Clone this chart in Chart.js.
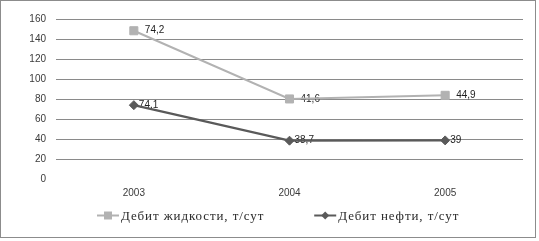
<!DOCTYPE html>
<html>
<head>
<meta charset="utf-8">
<script src="https://cdn.jsdelivr.net/npm/chart.js@4/dist/chart.umd.min.js"></script>
<style>
  html, body { margin: 0; padding: 0; background: #fff; }
  #wrap { position: absolute; left: 0; top: 0; width: 534px; height: 236px; border: 1px solid #8c8c8c; }
</style>
</head>
<body>
<div id="wrap"><canvas id="myChart"></canvas></div>
<script>
const years = ['2003', '2004', '2005'];
const liquidRate = [74.2, 41.6, 44.9];  // Дебит жидкости
const oilRate = [74.1, 38.7, 39];       // Дебит нефти
const yTicks = [0, 20, 40, 60, 80, 100, 120, 140, 160];

const liquidName = 'Дебит жидкости, т/сут';
const oilName = 'Дебит нефти, т/сут';

const tickFont = { family: '"Liberation Sans", Arial, sans-serif', size: 10 };

function fmt(v) {
  return String(v).replace('.', ',');
}

// value labels, drawn under the lines like in the original
const valueLabels = {
  id: 'valueLabels',
  beforeDatasetsDraw(chart) {
    const ctx = chart.ctx;
    ctx.save();
    ctx.font = '10px "Liberation Sans", Arial, sans-serif';
    ctx.fillStyle = '#1e1e1e';
    ctx.textBaseline = 'middle';
    ctx.textAlign = 'left';
    chart.data.datasets.forEach(function (ds, i) {
      const meta = chart.getDatasetMeta(i);
      meta.data.forEach(function (pt, j) {
        ctx.fillText(fmt(ds.data[j]), pt.x + ds.labelOffset, pt.y);
      });
    });
    ctx.restore();
  }
};

// legend: line + marker, then text
const lineLegend = {
  id: 'lineLegend',
  afterDraw(chart) {
    const ctx = chart.ctx;
    const y = 214.5;
    let x = 96;
    ctx.save();
    ctx.font = '13px "Liberation Serif", "Times New Roman", serif';
    ctx.letterSpacing = '0.9px';
    ctx.textBaseline = 'middle';
    [1, 0].forEach(function (i) {
      const ds = chart.data.datasets[i];
      ctx.strokeStyle = ds.borderColor;
      ctx.lineWidth = 2;
      ctx.beginPath();
      ctx.moveTo(x, y);
      ctx.lineTo(x + 22, y);
      ctx.stroke();
      ctx.fillStyle = ds.borderColor;
      ctx.beginPath();
      if (ds.pointStyle === 'rect') {
        ctx.rect(x + 7, y - 4, 8, 8);
      } else {
        ctx.moveTo(x + 11, y - 4);
        ctx.lineTo(x + 15, y);
        ctx.lineTo(x + 11, y + 4);
        ctx.lineTo(x + 7, y);
        ctx.closePath();
      }
      ctx.fill();
      ctx.fillStyle = '#2a2a2a';
      ctx.fillText(ds.label, x + 24, y + 1);
      x += 24 + ctx.measureText(ds.label).width + 50;
    });
    ctx.restore();
  }
};

new Chart(document.getElementById('myChart'), {
  type: 'line',
  data: {
    labels: years,
    datasets: [
      {
        label: oilName,
        data: oilRate,
        borderColor: '#5a5a5a',
        backgroundColor: '#5a5a5a',
        borderWidth: 2.2,
        pointStyle: 'rectRot',
        pointRadius: 4.5,
        pointBorderWidth: 1,
        labelOffset: 5
      },
      {
        label: liquidName,
        data: liquidRate,
        borderColor: '#b2b2b2',
        backgroundColor: '#b2b2b2',
        borderWidth: 2,
        pointStyle: 'rect',
        pointRadius: 5.7,
        pointBorderWidth: 1,
        labelOffset: 11
      }
    ]
  },
  options: {
    responsive: true,
    maintainAspectRatio: false,
    animation: false,
    layout: { padding: { top: 18, right: 12, left: 0, bottom: 0 } },
    plugins: {
      legend: { display: false },
      tooltip: { enabled: false }
    },
    scales: {
      x: {
        offset: true,
        grid: { display: false },
        border: { display: false },
        ticks: { color: '#3a3a3a', font: tickFont, padding: 0 },
        afterFit(scale) { scale.height = 57.5; }
      },
      y: {
        stacked: true,
        min: 0,
        max: 160,
        afterBuildTicks(scale) { scale.ticks = yTicks.map(v => ({ value: v })); },
        grid: {
          color: (c) => c.tick && c.tick.value === 0 ? 'rgba(0,0,0,0)' : '#8a8a8a',
          drawTicks: false
        },
        border: { display: false },
        ticks: { color: '#3a3a3a', font: tickFont, padding: 10 },
        afterFit(scale) { scale.width = 55; }
      }
    }
  },
  plugins: [valueLabels, lineLegend]
});
</script>
</body>
</html>
